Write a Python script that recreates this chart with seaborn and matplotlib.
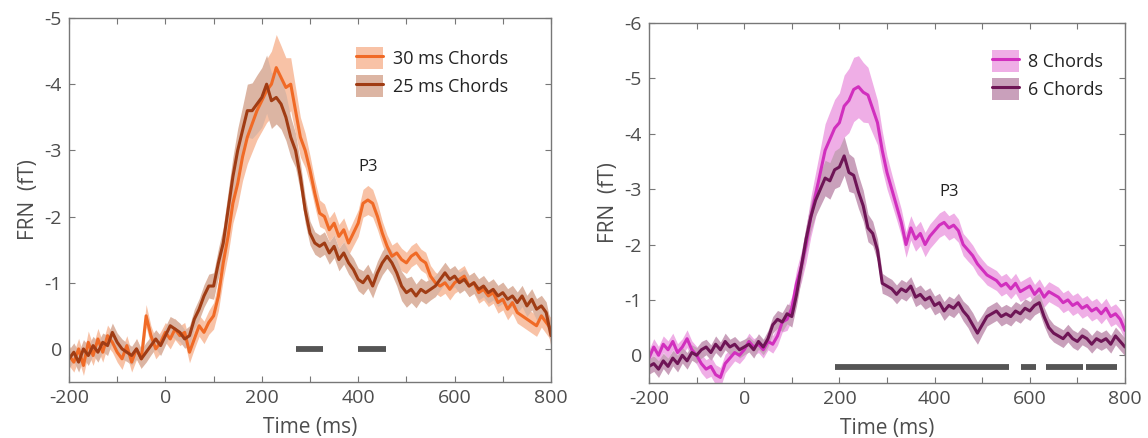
import numpy as np
import pandas as pd
import seaborn as sns
import matplotlib.pyplot as plt
from matplotlib.patches import Patch
from matplotlib.lines import Line2D

# time axis, 10 ms steps
time_ms = list(range(-200, 801, 10))

# left panel: chord duration
fb_30ms = [0.1, 0.2, 0.0, 0.25, -0.1, 0.1, -0.15, 0.05, -0.2, -0.1,
           0.05, 0.15, -0.05, 0.2, 0.0, 0.15, -0.5, -0.2, 0.0, -0.1,
           -0.25, -0.15, -0.3, -0.2, -0.25, 0.05, -0.15, -0.35, -0.25, -0.4,
           -0.5, -0.8, -1.3, -1.7, -2.2, -2.5, -2.9, -3.2, -3.4, -3.6,
           -3.75, -3.9, -4.0, -4.25, -4.1, -3.95, -4.0, -3.6, -3.2, -3.0,
           -2.7, -2.35, -2.05, -2.0, -1.8, -1.9, -1.7, -1.8, -1.6, -1.75,
           -1.9, -2.2, -2.25, -2.2, -2.0, -1.75, -1.55, -1.4, -1.45, -1.35,
           -1.3, -1.4, -1.45, -1.35, -1.3, -1.1, -1.0, -0.95, -1.0, -0.9,
           -1.0, -1.05, -1.1, -0.95, -1.0, -0.85, -0.9, -0.8, -0.85, -0.7,
           -0.75, -0.6, -0.7, -0.55, -0.5, -0.45, -0.4, -0.35, -0.5, -0.4,
           -0.3]
fb_25ms = [0.15, 0.05, 0.2, 0.0, 0.1, -0.05, 0.05, -0.1, -0.05, -0.25,
           -0.1, 0.0, 0.05, 0.1, 0.0, 0.15, 0.05, -0.05, -0.15, -0.05,
           -0.2, -0.35, -0.3, -0.25, -0.15, -0.2, -0.45, -0.6, -0.8, -0.95,
           -0.95, -1.3, -1.6, -2.1, -2.6, -3.0, -3.3, -3.6, -3.6, -3.7,
           -3.8, -4.0, -3.75, -3.8, -3.7, -3.5, -3.2, -3.0, -2.6, -2.1,
           -1.75, -1.6, -1.55, -1.6, -1.45, -1.55, -1.35, -1.45, -1.3, -1.2,
           -1.05, -1.0, -1.1, -0.95, -1.15, -1.3, -1.4, -1.3, -1.15, -0.95,
           -0.85, -0.9, -0.8, -0.9, -0.85, -0.9, -0.95, -1.05, -1.15, -1.05,
           -1.1, -1.0, -1.05, -0.95, -1.0, -0.9, -0.95, -0.85, -0.9, -0.8,
           -0.85, -0.75, -0.8, -0.7, -0.8, -0.65, -0.75, -0.6, -0.65, -0.55,
           -0.2]
se_30ms = [0.15, 0.15, 0.16, 0.15, 0.17, 0.15, 0.16, 0.15, 0.16, 0.15,
           0.15, 0.16, 0.15, 0.15, 0.16, 0.15, 0.17, 0.15, 0.15, 0.16,
           0.15, 0.15, 0.16, 0.15, 0.15, 0.16, 0.15, 0.16, 0.17, 0.18,
           0.2, 0.22, 0.25, 0.28, 0.3, 0.33, 0.36, 0.4, 0.42, 0.44,
           0.46, 0.48, 0.5, 0.5, 0.48, 0.45, 0.4, 0.35, 0.3, 0.26,
           0.22, 0.2, 0.2, 0.19, 0.18, 0.18, 0.18, 0.18, 0.18, 0.19,
           0.2, 0.21, 0.22, 0.21, 0.2, 0.18, 0.17, 0.17, 0.17, 0.17,
           0.16, 0.16, 0.16, 0.16, 0.16, 0.16, 0.16, 0.16, 0.16, 0.16,
           0.16, 0.16, 0.16, 0.16, 0.16, 0.16, 0.16, 0.16, 0.16, 0.16,
           0.16, 0.16, 0.16, 0.16, 0.16, 0.16, 0.16, 0.16, 0.17, 0.17,
           0.17]
se_25ms = [0.14, 0.14, 0.15, 0.14, 0.15, 0.14, 0.15, 0.14, 0.15, 0.14,
           0.14, 0.15, 0.14, 0.14, 0.15, 0.14, 0.15, 0.14, 0.14, 0.15,
           0.14, 0.14, 0.15, 0.14, 0.14, 0.15, 0.15, 0.16, 0.17, 0.18,
           0.2, 0.22, 0.24, 0.27, 0.3, 0.33, 0.36, 0.4, 0.42, 0.44,
           0.45, 0.44, 0.42, 0.4, 0.38, 0.35, 0.3, 0.26, 0.22, 0.2,
           0.18, 0.17, 0.17, 0.17, 0.17, 0.17, 0.17, 0.17, 0.17, 0.17,
           0.17, 0.18, 0.18, 0.18, 0.18, 0.18, 0.18, 0.18, 0.2, 0.22,
           0.22, 0.2, 0.18, 0.17, 0.17, 0.16, 0.16, 0.16, 0.16, 0.16,
           0.16, 0.16, 0.16, 0.16, 0.16, 0.16, 0.16, 0.16, 0.16, 0.16,
           0.16, 0.16, 0.16, 0.16, 0.16, 0.16, 0.16, 0.16, 0.16, 0.16,
           0.17]

# right panel: number of chords
fb_8ch = [0.05, -0.15, 0.0, -0.2, -0.1, -0.25, -0.05, -0.15, -0.3, -0.1,
          0.0, 0.15, 0.25, 0.2, 0.35, 0.4, 0.15, 0.05, -0.05, 0.0,
          -0.1, -0.25, -0.15, -0.2, -0.1, -0.25, -0.2, -0.35, -0.6, -0.65,
          -0.85, -1.3, -1.6, -2.0, -2.5, -2.9, -3.3, -3.7, -3.9, -4.1,
          -4.2, -4.5, -4.6, -4.8, -4.85, -4.75, -4.7, -4.45, -4.2, -3.7,
          -3.3, -3.0, -2.7, -2.4, -2.0, -2.3, -2.1, -2.2, -2.0, -2.15,
          -2.25, -2.35, -2.4, -2.3, -2.35, -2.25, -2.0, -1.9, -1.8, -1.65,
          -1.55, -1.45, -1.4, -1.35, -1.25, -1.3, -1.2, -1.3, -1.15, -1.2,
          -1.25, -1.1, -1.2, -1.05, -1.15, -1.1, -1.05, -0.95, -1.0, -0.9,
          -0.95, -0.85, -0.9, -0.8, -0.85, -0.75, -0.85, -0.7, -0.75, -0.65,
          -0.45]
fb_6ch = [0.2, 0.15, 0.25, 0.1, 0.2, 0.05, 0.15, 0.0, 0.1, -0.05,
          0.0, -0.1, -0.15, -0.05, -0.2, -0.1, -0.25, -0.15, -0.2, -0.1,
          -0.15, -0.2, -0.1, -0.25, -0.15, -0.3, -0.55, -0.65, -0.6, -0.75,
          -0.7, -1.1, -1.6, -2.1, -2.5, -2.8, -3.0, -3.2, -3.15, -3.35,
          -3.4, -3.6, -3.3, -3.25, -2.95, -2.7, -2.3, -2.2, -1.9, -1.3,
          -1.25, -1.2, -1.1, -1.2, -1.15, -1.25, -1.05, -1.1, -1.0, -1.05,
          -0.9, -0.95, -0.8, -0.9, -0.85, -0.95, -0.8, -0.7, -0.55, -0.4,
          -0.55, -0.7, -0.75, -0.8, -0.7, -0.75, -0.7, -0.8, -0.75, -0.85,
          -0.8, -0.9, -0.95, -0.7, -0.5, -0.4, -0.35, -0.3, -0.4, -0.3,
          -0.25, -0.35, -0.3, -0.2, -0.3, -0.25, -0.3, -0.2, -0.35, -0.25,
          -0.15]
se_8ch = [0.15, 0.15, 0.16, 0.15, 0.16, 0.15, 0.16, 0.15, 0.16, 0.16,
          0.16, 0.17, 0.17, 0.18, 0.18, 0.18, 0.17, 0.16, 0.15, 0.15,
          0.15, 0.15, 0.15, 0.15, 0.15, 0.15, 0.16, 0.17, 0.18, 0.2,
          0.22, 0.25, 0.28, 0.32, 0.36, 0.4, 0.44, 0.48, 0.5, 0.52,
          0.54, 0.56, 0.58, 0.58, 0.56, 0.54, 0.5, 0.45, 0.4, 0.35,
          0.3, 0.27, 0.25, 0.24, 0.23, 0.22, 0.22, 0.22, 0.22, 0.22,
          0.22, 0.22, 0.22, 0.22, 0.22, 0.21, 0.2, 0.2, 0.19, 0.19,
          0.18, 0.18, 0.18, 0.18, 0.18, 0.18, 0.18, 0.18, 0.18, 0.18,
          0.18, 0.18, 0.18, 0.18, 0.18, 0.18, 0.18, 0.18, 0.18, 0.18,
          0.18, 0.18, 0.18, 0.18, 0.18, 0.18, 0.18, 0.18, 0.18, 0.18,
          0.18]
se_6ch = [0.14, 0.14, 0.15, 0.14, 0.15, 0.14, 0.15, 0.14, 0.15, 0.14,
          0.14, 0.15, 0.14, 0.14, 0.15, 0.14, 0.15, 0.14, 0.14, 0.15,
          0.14, 0.14, 0.15, 0.14, 0.14, 0.15, 0.15, 0.16, 0.17, 0.18,
          0.19, 0.2, 0.22, 0.24, 0.26, 0.28, 0.3, 0.32, 0.33, 0.34,
          0.35, 0.35, 0.34, 0.32, 0.3, 0.28, 0.25, 0.22, 0.2, 0.18,
          0.17, 0.17, 0.17, 0.17, 0.17, 0.17, 0.17, 0.17, 0.17, 0.17,
          0.17, 0.17, 0.17, 0.17, 0.17, 0.17, 0.18, 0.2, 0.22, 0.2,
          0.18, 0.17, 0.17, 0.17, 0.17, 0.17, 0.17, 0.17, 0.17, 0.17,
          0.17, 0.17, 0.17, 0.17, 0.17, 0.16, 0.16, 0.16, 0.16, 0.16,
          0.16, 0.16, 0.16, 0.16, 0.16, 0.16, 0.16, 0.16, 0.16, 0.16,
          0.16]

# significant clusters (start, end in ms)
sig_left = [(270, 327), (400, 457)]
sig_right = [(191, 556), (581, 612), (634, 712), (718, 783)]

sns.set_style("white")
plt.rcParams['font.family'] = ['Open Sans', 'DejaVu Sans']
text_col = '#4d4d4d'

fig = plt.figure(figsize=(11.48, 4.38), dpi=100)
ax1 = fig.add_axes([69 / 1148, 1 - 382 / 438, (551 - 69) / 1148, (382 - 18) / 438])
ax2 = fig.add_axes([649 / 1148, 1 - 383 / 438, (1125 - 649) / 1148, (383 - 23) / 438])


def draw_panel(ax, series, sig, sig_y, ymin, p3_xy, leg_anchor):
    handles = []
    for label, vals, se, col, band in series:
        df = pd.DataFrame({'time': time_ms, 'fT': vals, 'se': se})
        ax.fill_between(df['time'], df['fT'] - df['se'], df['fT'] + df['se'],
                        color=band, linewidth=0, zorder=1)
        sns.lineplot(data=df, x='time', y='fT', ax=ax, color=col, lw=2.2,
                     errorbar=None, zorder=2)
        handles.append((Patch(facecolor=band, edgecolor='none'),
                        Line2D([], [], color=col, lw=2.2)))
    for s, e in sig:
        ax.plot([s, e], [sig_y, sig_y], color='#555555', lw=4.2,
                solid_capstyle='butt', zorder=3)
    ax.set_xlim(-200, 800)
    ax.set_ylim(0.5, ymin)
    ax.set_xticks(range(-200, 801, 100))
    ax.set_xticklabels([str(t) if t % 200 == 0 else '' for t in range(-200, 801, 100)])
    ax.set_yticks(range(ymin, 1))
    ax.set_yticklabels([str(v) for v in range(ymin, 1)])
    ax.tick_params(direction='in', length=4, width=0.8, color='#777777',
                   labelsize=14, labelcolor=text_col, top=True, right=True,
                   bottom=True, left=True, pad=5)
    for sp in ax.spines.values():
        sp.set_color('#777777')
        sp.set_linewidth(1.0)
    ax.set_xlabel('Time (ms)', fontsize=15, color=text_col, labelpad=7)
    ax.set_ylabel('FRN  (fT)', fontsize=15, color=text_col, labelpad=4)
    ax.text(p3_xy[0], p3_xy[1], 'P3', fontsize=12, color='#222222',
            ha='center', va='center')
    labels = [s[0] for s in series]
    leg = ax.legend(handles, labels, loc='upper right', bbox_to_anchor=leg_anchor,
                    frameon=False, fontsize=13, handlelength=1.5, handleheight=1.5,
                    handletextpad=0.5, labelspacing=0.35, borderaxespad=0.0)
    for t in leg.get_texts():
        t.set_color('#222222')


draw_panel(ax1,
           [('30 ms Chords', fb_30ms, se_30ms, '#f06a26', '#f8c2a6'),
            ('25 ms Chords', fb_25ms, se_25ms, '#a03c14', '#dcb5a3')],
           sig_left, 0.0, -5, (420, -2.75), (0.925, 0.94))
draw_panel(ax2,
           [('8 Chords', fb_8ch, se_8ch, '#d12fbe', '#efaee6'),
            ('6 Chords', fb_6ch, se_6ch, '#6e1556', '#c9a0bb')],
           sig_right, 0.22, -6, (430, -2.95), (0.97, 0.945))

fig.savefig('out.png', dpi=100)
